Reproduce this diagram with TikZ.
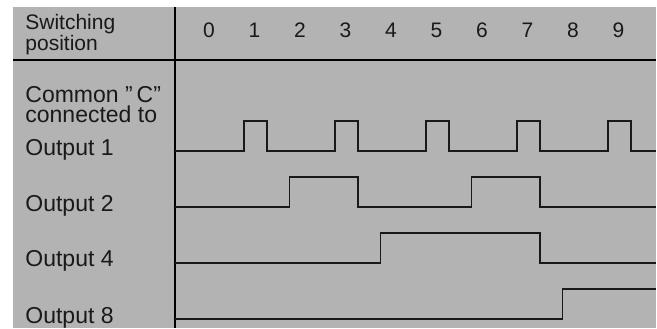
\documentclass[tikz,border=0pt]{standalone}
\usepackage{fontspec}
\setmainfont{Liberation Sans}
\usepackage{tikz}
\usetikzlibrary{positioning}
\definecolor{panel}{RGB}{179,179,179}
\definecolor{ink}{RGB}{25,25,25}

\begin{document}
\begin{tikzpicture}[
    x=0.5pt, y=-0.5pt,
    lbl/.style={anchor=base west, inner sep=0pt, align=left, text=ink,
                font=\fontsize{11.5}{10}\selectfont},
    head/.style={lbl, font=\fontsize{10.5}{10.5}\selectfont},
    num/.style={inner sep=0pt, text=ink, font=\fontsize{10.5}{10.5}\selectfont},
    rule/.style={line width=1.3pt},
    wave/.style={line width=0.65pt, line join=miter, ink},
  ]

  % panel and grid lines
  \useasboundingbox (0,0) rectangle (657,328);
  \fill[panel] (13,7) rectangle (656,328);
  \draw[line width=1pt] (13,60) -- (656,60);
  \draw[rule] (175,7) -- (175,328);

  % header row
  \node[head] (hd) at (25,50) {Switching\\position};
  \foreach \k in {0,...,9}
    \node[num] (n\k) at ({209+45.5*\k},30) {\k};

  % row labels
  \node[lbl] (cc) at (25,122) {Common ”\hspace{2pt}C”\\connected to};
  \node[lbl] (o1) at (25,155) {Output 1};
  \node[lbl] (o2) at (25,211) {Output 2};
  \node[lbl] (o4) at (25,266) {Output 4};
  \node[lbl] (o8) at (25,323) {Output 8};

  % waveforms
  \draw[wave] (175,151) foreach \k in {1,3,5,7,9} {
      -- ({198.6+45.5*\k},151) -- ++(0,-30) -- ++(22.8,0) -- ++(0,30)
    } -- (656,151);
  \draw[wave] (175,207) -- (289.6,207) |- (357.9,177) |- (471.6,207)
    |- (539.9,177) |- (656,207);
  \draw[wave] (175,263) -- (380.6,263) |- (539.9,233) |- (656,263);
  \draw[wave] (175,319) -- (562.6,319) |- (656,289);
\end{tikzpicture}
\end{document}
